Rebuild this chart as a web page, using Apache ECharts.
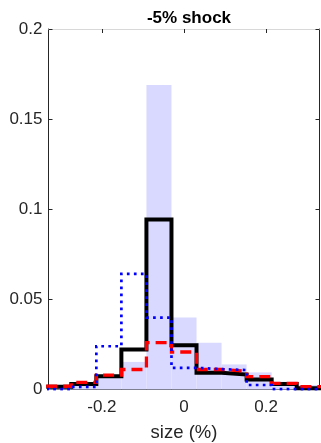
<!DOCTYPE html>
<html>
<head>
<meta charset="utf-8">
<script src="https://cdn.jsdelivr.net/npm/echarts@6/dist/echarts.min.js"></script>
<style>
html,body{margin:0;padding:0;background:#fff;}
#c{width:321px;height:443px;}
</style>
</head>
<body>
<div id="c"></div>
<script>
// Bin edges (11 bins)
var binEdges = [-0.3355, -0.2745, -0.2135, -0.1525, -0.0915, -0.0305, 0.0305, 0.0915, 0.1525, 0.2135, 0.2745, 0.3355];
// Shaded histogram (light blue bars)
var barValues = [0.001, 0.0025, 0.007, 0.0153, 0.169, 0.040, 0.026, 0.0139, 0.0095, 0.0043, 0.0025];
// Black solid stairs
var blackValues = [0.0015, 0.0031, 0.0074, 0.0222, 0.0943, 0.0245, 0.0093, 0.0083, 0.0056, 0.003, 0.0007];
// Red dashed stairs
var redValues = [0.0018, 0.0040, 0.0080, 0.0111, 0.026, 0.0208, 0.0111, 0.0101, 0.0071, 0.0034, 0.0016];
// Blue dotted stairs
var blueValues = [0.0002, 0.0015, 0.024, 0.0642, 0.0399, 0.012, 0.0113, 0.0108, 0.0025, 0.0002, 0.0002];
var xTicks = [-0.2, 0, 0.2];
var yTicks = [0, 0.05, 0.1, 0.15, 0.2];
var titleText = '-5% shock';
var xLabel = 'size (%)';

function stairs(vals) {
  var d = [];
  for (var i = 0; i < vals.length; i++) d.push([binEdges[i], vals[i]]);
  d.push([binEdges[vals.length], vals[vals.length - 1]]);
  return d;
}
var barData = barValues.map(function (v, i) { return [binEdges[i], binEdges[i + 1], v]; });

var axisColor = '#262626';
var font = '"Liberation Sans", Arial, Helvetica, sans-serif';
var chart = echarts.init(document.getElementById('c'), null, {renderer: 'canvas'});
chart.setOption({
  animation: false,
  backgroundColor: '#ffffff',
  title: {
    text: titleText, left: 184, textAlign: 'center', top: 5,
    textStyle: {fontFamily: font, fontSize: 17, fontWeight: 'bold', color: '#000'}
  },
  grid: {left: 48.5, right: 1.5, top: 29, bottom: 53.5, containLabel: false, outerBoundsMode: 'none'},
  xAxis: [{
    type: 'value', min: -0.33, max: 0.33, position: 'bottom',
    name: xLabel, nameLocation: 'middle', nameGap: 34,
    nameTextStyle: {fontFamily: font, fontSize: 18.5, color: axisColor},
    axisLine: {show: true, onZero: false, lineStyle: {color: axisColor, width: 1}},
    axisTick: {show: true, inside: true, length: 4, customValues: xTicks, lineStyle: {color: axisColor}},
    axisLabel: {show: true, customValues: xTicks, margin: 9, fontFamily: font, fontSize: 17, color: axisColor,
      formatter: function (v) { return String(Math.round(v * 1000) / 1000); }},
    splitLine: {show: false}
  }, {
    type: 'value', min: -0.33, max: 0.33, position: 'top',
    axisLine: {show: true, onZero: false, lineStyle: {color: '#d8d8d8', width: 1}},
    axisTick: {show: true, inside: true, length: 4, customValues: xTicks, lineStyle: {color: axisColor}},
    axisLabel: {show: false}, splitLine: {show: false}
  }],
  yAxis: [{
    type: 'value', min: 0, max: 0.2, interval: 0.05, position: 'left',
    axisLine: {show: true, onZero: false, lineStyle: {color: axisColor, width: 1}},
    axisTick: {show: true, inside: true, length: 4, lineStyle: {color: axisColor}},
    axisLabel: {show: true, margin: 6, fontFamily: font, fontSize: 17, color: axisColor,
      formatter: function (v) { return String(Math.round(v * 1000) / 1000); }},
    splitLine: {show: false}
  }, {
    type: 'value', min: 0, max: 0.2, interval: 0.05, position: 'right',
    axisLine: {show: true, onZero: false, lineStyle: {color: axisColor, width: 1}},
    axisTick: {show: true, inside: true, length: 4, lineStyle: {color: axisColor}},
    axisLabel: {show: false}, splitLine: {show: false}
  }],
  series: [{
    type: 'custom', xAxisIndex: 0, yAxisIndex: 0, z: 1,
    data: barData,
    renderItem: function (params, api) {
      var p0 = api.coord([api.value(0), api.value(2)]);
      var p1 = api.coord([api.value(1), 0]);
      var rect = echarts.graphic.clipRectByRect(
        {x: p0[0], y: p0[1], width: p1[0] - p0[0], height: p1[1] - p0[1]},
        {x: params.coordSys.x, y: params.coordSys.y, width: params.coordSys.width, height: params.coordSys.height});
      if (!rect) return;
      return {type: 'rect', shape: rect, style: {fill: '#d9d9ff'}};
    }
  }, {
    type: 'line', step: 'end', data: stairs(blackValues), symbol: 'none', clip: true, z: 3,
    lineStyle: {color: '#000000', width: 4, join: 'miter', cap: 'butt'}
  }, {
    type: 'line', step: 'end', data: stairs(redValues), symbol: 'none', clip: true, z: 4,
    lineStyle: {color: '#ff0000', width: 3.3, type: [11, 6], join: 'miter', cap: 'butt'}
  }, {
    type: 'line', step: 'end', data: stairs(blueValues), symbol: 'none', clip: true, z: 5,
    lineStyle: {color: '#0000ff', width: 2.7, type: [2.7, 4.3], join: 'miter', cap: 'butt'}
  }]
});
</script>
</body>
</html>
